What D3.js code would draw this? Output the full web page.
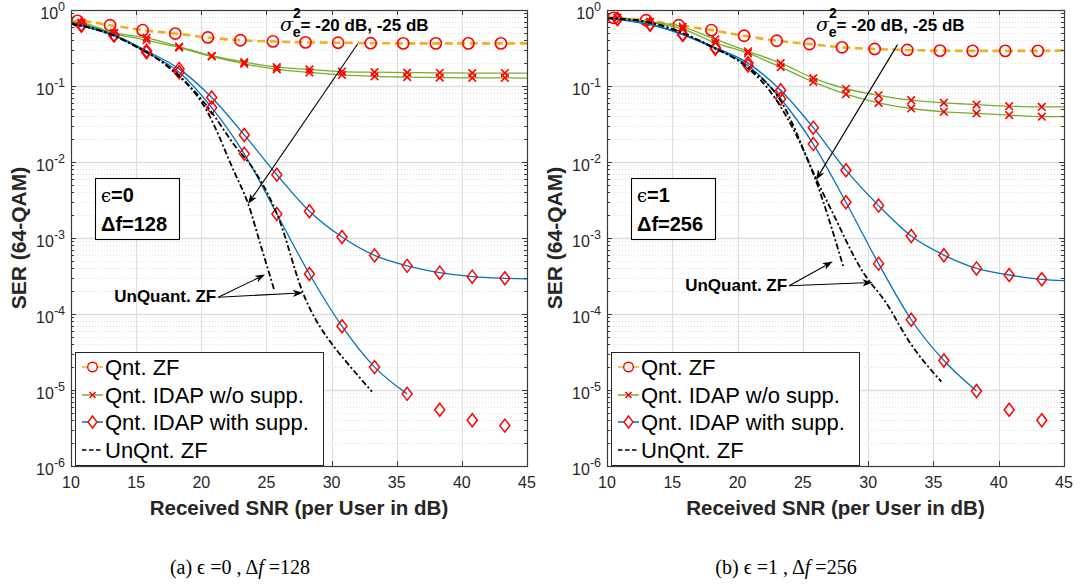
<!DOCTYPE html>
<html><head><meta charset="utf-8">
<script src="https://cdn.jsdelivr.net/npm/d3@7"></script>
<style>
body{margin:0;background:#fff;}
svg{display:block;font-family:"Liberation Sans",Arial,Helvetica,sans-serif;}
</style>
</head><body>
<svg id="chart" width="1084" height="584"></svg>
<script>
// ---------------- data ----------------
const snrTicks = [10, 15, 20, 25, 30, 35, 40, 45];
const snrRange = [10, 45];
const serTicks = [1e0, 1e-1, 1e-2, 1e-3, 1e-4, 1e-5, 1e-6];
const serTickExp = ["0", "-1", "-2", "-3", "-4", "-5", "-6"];
const legendLabels = ["Qnt. ZF", "Qnt. IDAP w/o supp.", "Qnt. IDAP with supp.", "UnQnt. ZF"];
const snrZF = [10.5, 13, 15.5, 18, 20.5, 23, 25.5, 28, 30.5, 33, 35.5, 38, 40.5, 43];
const snrIDAP = [10.8, 13.3, 15.8, 18.3, 20.8, 23.3, 25.8, 28.3, 30.8, 33.3, 35.8, 38.3, 40.8, 43.3];

// panel (a): eps=0, df=128
const aZF = [0.72, 0.63, 0.543, 0.49, 0.435, 0.40, 0.386, 0.375, 0.371, 0.366, 0.364, 0.364, 0.364, 0.364];
const aZFEnds = [0.70, 0.364];
const aWo20 = [0.68, 0.50, 0.43, 0.33, 0.25, 0.206, 0.177, 0.165, 0.155, 0.152, 0.150, 0.149, 0.148, 0.148];
const aWo20Ends = [0.70, 0.148];
const aWo25 = [0.66, 0.49, 0.40, 0.32, 0.245, 0.196, 0.166, 0.151, 0.140, 0.134, 0.131, 0.129, 0.128, 0.128];
const aWo25Ends = [0.70, 0.127];
const aW20 = [0.64, 0.47, 0.29, 0.168, 0.0705, 0.0227, 0.0068, 0.00225, 0.00103, 5.9e-4, 4.3e-4, 3.5e-4, 3.1e-4, 2.95e-4];
const aW20Ends = [0.68, 2.9e-4];
const aW25 = [0.62, 0.46, 0.277, 0.152, 0.052, 0.0128, 0.00207, 3.36e-4, 6.9e-5, 2.0e-5, 8.9e-6, 5.5e-6, 4.0e-6, 3.4e-6];
const aW25Ends = [0.68, null];
const aW25LineStop = 35.8;
const aUnqASnr = [10, 12.5, 15, 17.5, 20.4, 22.5, 23.6, 24.6, 25.6];
const aUnqASer = [0.66, 0.52, 0.33, 0.175, 0.048, 0.0076, 0.0028, 7.6e-4, 2.07e-4];
const aUnqBSnr = [10, 12.5, 15, 17.5, 20.6, 22.5, 24.1, 25.9, 27.8, 30.3, 31.0, 33.1];
const aUnqBSer = [0.66, 0.52, 0.33, 0.18, 0.05, 0.017, 0.0076, 0.0019, 1.9e-4, 3.5e-5, 2.5e-5, 9.5e-6];

// panel (b): eps=1, df=256
const bZF = [0.79, 0.733, 0.63, 0.543, 0.458, 0.394, 0.357, 0.323, 0.307, 0.298, 0.292, 0.29, 0.29, 0.29];
const bZFEnds = [0.81, 0.295];
const bWo20 = [0.79, 0.70, 0.60, 0.41, 0.286, 0.20, 0.127, 0.092, 0.0755, 0.065, 0.060, 0.057, 0.0543, 0.053];
const bWo20Ends = [0.80, 0.053];
const bWo25 = [0.79, 0.69, 0.56, 0.37, 0.27, 0.177, 0.113, 0.078, 0.060, 0.0506, 0.0458, 0.0436, 0.0414, 0.0395];
const bWo25Ends = [0.80, 0.0395];
const bW20 = [0.76, 0.65, 0.48, 0.32, 0.20, 0.0878, 0.0283, 0.0078, 0.00267, 0.00106, 5.94e-4, 3.98e-4, 3.26e-4, 2.86e-4];
const bW20Ends = [0.80, 2.75e-4];
const bW25 = [0.76, 0.64, 0.47, 0.31, 0.186, 0.068, 0.0172, 0.00295, 4.6e-4, 8.4e-5, 2.44e-5, 9.7e-6, 5.5e-6, 4.0e-6];
const bW25Ends = [0.80, null];
const bW25LineStop = 38.3;
const bUnqASnr = [10, 13, 15.5, 18, 20.5, 23.0, 25.9, 28.1];
const bUnqASer = [0.78, 0.70, 0.52, 0.33, 0.19, 0.064, 0.0063, 4.2e-4];
const bUnqBSnr = [10, 13, 15.5, 18, 20.5, 23.3, 26.1, 27.2, 29.5, 31.4, 33.2, 35.6];
const bUnqBSer = [0.78, 0.70, 0.52, 0.33, 0.19, 0.064, 0.0056, 0.0023, 3.8e-4, 1.38e-4, 4.2e-5, 1.29e-5];

const captions = ["(a) \u03F5 =0 , \u0394", "(b) \u03F5 =1 , \u0394"];
const captionTail = [" =128", " =256"];
const boxEps = ["=0", "=1"];
const boxDf = ["\u0394f=128", "\u0394f=256"];

// ---------------- styles ----------------
const C = {yellow:"#EDB120", green:"#77AC30", blue:"#0072BD", red:"#FF0000", axis:"#262626", grid:"#dedede"};
const svg = d3.select("#chart");
svg.append("rect").attr("width",1084).attr("height",584).attr("fill","#fff");

const panels = [
  {x0:71, x1:527, zf:aZF, zfEnds:aZFEnds, wo:[[aWo20,aWo20Ends],[aWo25,aWo25Ends]],
   w:[[aW20,aW20Ends,null],[aW25,aW25Ends,aW25LineStop]],
   unq:[[aUnqASnr,aUnqASer],[aUnqBSnr,aUnqBSer]],
   sigArrow:[[32.0,0.357],[23.58,0.0028]], unqStart:[21.3,1.66e-4], unqTips:[[24.9,3.3e-4],[27.8,1.9e-4]],
   capX:240, idx:0},
  {x0:607, x1:1064, zf:bZF, zfEnds:bZFEnds, wo:[[bWo20,bWo20Ends],[bWo25,bWo25Ends]],
   w:[[bW20,bW20Ends,null],[bW25,bW25Ends,bW25LineStop]],
   unq:[[bUnqASnr,bUnqASer],[bUnqBSnr,bUnqBSer]],
   sigArrow:[[32.25,0.35],[26.0,0.0058]], unqStart:[23.95,2.35e-4], unqTips:[[27.28,4.9e-4],[30.34,2.6e-4]],
   capX:786, idx:1}
];
const yTop = 10, yBot = 466;

let clipId = 0;
function buildPts(xs, ys, ends, stop){
  const p = [];
  if (ends && ends[0] != null) p.push([snrRange[0], ends[0]]);
  xs.forEach((x,i)=>{ if (stop == null || x <= stop) p.push([x, ys[i]]); });
  if (ends && ends[1] != null && stop == null) p.push([snrRange[1], ends[1]]);
  return p;
}
function arrow(g, x1, y1, x2, y2){
  const dx = x2-x1, dy = y2-y1, L = Math.hypot(dx,dy), ux = dx/L, uy = dy/L;
  const hl = 10, hw = 3.6;
  const bx = x2 - ux*hl, by = y2 - uy*hl;
  g.append("line").attr("x1",x1).attr("y1",y1).attr("x2",bx+ux*2).attr("y2",by+uy*2)
    .attr("stroke","#000").attr("stroke-width",1.1);
  g.append("path").attr("d",`M${x2},${y2}L${bx - uy*hw},${by + ux*hw}L${x2-ux*hl*0.75},${y2-uy*hl*0.75}L${bx + uy*hw},${by - ux*hw}Z`)
    .attr("fill","#000");
}

panels.forEach(P=>{
  const x = d3.scaleLinear().domain(snrRange).range([P.x0, P.x1]);
  const y = d3.scaleLog().domain([1e-6, 1]).range([yBot, yTop]);
  const g = svg.append("g");
  const cid = "clip"+(clipId++);
  svg.append("defs").append("clipPath").attr("id",cid).append("rect")
    .attr("x",P.x0).attr("y",yTop).attr("width",P.x1-P.x0).attr("height",yBot-yTop);

  // grid
  const grid = g.append("g");
  const minor = [];
  for (let e=-6; e<0; e++) for (let m=2; m<=9; m++) minor.push(m*Math.pow(10,e));
  grid.selectAll(".mn").data(minor).join("line")
    .attr("x1",P.x0).attr("x2",P.x1).attr("y1",d=>Math.round(y(d))+0.5).attr("y2",d=>Math.round(y(d))+0.5)
    .attr("stroke","#e2e2e2").attr("stroke-width",1).attr("stroke-dasharray","1,2");
  grid.selectAll(".mj").data(serTicks.slice(1,-1)).join("line")
    .attr("x1",P.x0).attr("x2",P.x1).attr("y1",d=>Math.round(y(d))+0.5).attr("y2",d=>Math.round(y(d))+0.5)
    .attr("stroke",C.grid).attr("stroke-width",1.3);
  grid.selectAll(".vx").data(snrTicks.slice(1,-1)).join("line")
    .attr("x1",d=>Math.round(x(d))+0.5).attr("x2",d=>Math.round(x(d))+0.5).attr("y1",yTop).attr("y2",yBot)
    .attr("stroke",C.grid).attr("stroke-width",1);

  const plot = g.append("g").attr("clip-path",`url(#${cid})`);
  const line = d3.line().x(d=>x(d[0])).y(d=>y(d[1])).curve(d3.curveMonotoneX);

  // Qnt. ZF
  plot.append("path").attr("d",line(buildPts(snrZF,P.zf,P.zfEnds,null)))
    .attr("fill","none").attr("stroke",C.yellow).attr("stroke-width",2.6).attr("stroke-dasharray","8,4.5");
  plot.selectAll(".circ").data(snrZF.map((s,i)=>[s,P.zf[i]])).join("circle")
    .attr("cx",d=>x(d[0])).attr("cy",d=>y(d[1])).attr("r",5.6)
    .attr("fill","none").attr("stroke",C.red).attr("stroke-width",1.6);

  // w/o supp
  P.wo.forEach(([vals,ends])=>{
    plot.append("path").attr("d",line(buildPts(snrIDAP,vals,ends,null)))
      .attr("fill","none").attr("stroke",C.green).attr("stroke-width",1.3);
  });
  P.wo.forEach(([vals])=>{
    snrIDAP.forEach((s,i)=>{
      const cx = x(s), cy = y(vals[i]), r = 3.8;
      plot.append("path").attr("d",`M${cx-r},${cy-r}L${cx+r},${cy+r}M${cx-r},${cy+r}L${cx+r},${cy-r}`)
        .attr("stroke",C.red).attr("stroke-width",1.6).attr("fill","none");
    });
  });

  // with supp
  P.w.forEach(([vals,ends,stop])=>{
    plot.append("path").attr("d",line(buildPts(snrIDAP,vals,ends,stop)))
      .attr("fill","none").attr("stroke",C.blue).attr("stroke-width",1.3);
  });
  P.w.forEach(([vals])=>{
    snrIDAP.forEach((s,i)=>{
      const cx = x(s), cy = y(vals[i]), hw = 5, hh = 6.5;
      plot.append("path").attr("d",`M${cx},${cy-hh}L${cx+hw},${cy}L${cx},${cy+hh}L${cx-hw},${cy}Z`)
        .attr("stroke",C.red).attr("stroke-width",1.5).attr("fill","none");
    });
  });

  // unquantized
  P.unq.forEach(([xs,ys])=>{
    plot.append("path").attr("d",line(xs.map((s,i)=>[s,ys[i]])))
      .attr("fill","none").attr("stroke","#000").attr("stroke-width",1.8).attr("stroke-dasharray","6,2.5,2,2.5");
  });

  // axes box & ticks
  const ax = g.append("g");
  ax.append("rect").attr("x",P.x0+0.5).attr("y",yTop+0.5).attr("width",P.x1-P.x0).attr("height",yBot-yTop)
    .attr("fill","none").attr("stroke","#3a3a3a").attr("stroke-width",1.2);
  snrTicks.forEach(t=>{
    const px = Math.round(x(t))+0.5;
    ax.append("line").attr("x1",px).attr("x2",px).attr("y1",yBot).attr("y2",yBot-5).attr("stroke","#3a3a3a");
    ax.append("line").attr("x1",px).attr("x2",px).attr("y1",yTop).attr("y2",yTop+5).attr("stroke","#3a3a3a");
  });
  serTicks.forEach(t=>{
    const py = Math.round(y(t))+0.5;
    ax.append("line").attr("x1",P.x0).attr("x2",P.x0+5).attr("y1",py).attr("y2",py).attr("stroke","#3a3a3a");
    ax.append("line").attr("x1",P.x1).attr("x2",P.x1-5).attr("y1",py).attr("y2",py).attr("stroke","#3a3a3a");
  });
  minor.forEach(t=>{
    const py = Math.round(y(t))+0.5;
    ax.append("line").attr("x1",P.x0).attr("x2",P.x0+3).attr("y1",py).attr("y2",py).attr("stroke","#3a3a3a");
    ax.append("line").attr("x1",P.x1).attr("x2",P.x1-3).attr("y1",py).attr("y2",py).attr("stroke","#3a3a3a");
  });
  // tick labels
  snrTicks.forEach(t=>{
    ax.append("text").attr("x",x(t)).attr("y",yBot+22).attr("text-anchor","middle")
      .attr("font-size",16).attr("fill",C.axis).text(t);
  });
  serTicks.forEach((t,i)=>{
    const tx = ax.append("text").attr("x",P.x0-6).attr("y",y(t)+8.5).attr("text-anchor","end")
      .attr("font-size",16).attr("fill",C.axis);
    tx.append("tspan").text("10");
    tx.append("tspan").attr("dy",-8).attr("font-size",12.5).text(serTickExp[i]);
  });
  // axis labels
  g.append("text").attr("transform",`translate(${P.x0-45},${(yTop+yBot)/2}) rotate(-90)`)
    .attr("text-anchor","middle").attr("font-size",21).attr("font-weight","bold").attr("fill",C.axis)
    .text("SER (64-QAM)");
  g.append("text").attr("x",(P.x0+P.x1)/2).attr("y",515).attr("text-anchor","middle")
    .attr("font-size",20.5).attr("font-weight","bold").attr("fill",C.axis)
    .text("Received SNR (per User in dB)");

  // sigma annotation
  const st = g.append("text").attr("x",P.x0+209).attr("y",31).attr("font-size",17).attr("font-weight","bold");
  st.append("tspan").attr("font-family","DejaVu Serif").attr("font-style","italic").attr("font-weight","normal").attr("font-size",19).text("\u03C3");
  st.append("tspan").attr("dy",-13).attr("font-size",14).text("2");
  st.append("tspan").attr("dx",-8).attr("dy",19).attr("font-size",14).text("e");
  st.append("tspan").attr("dy",-6).text("= -20 dB, -25 dB");
  arrow(g, x(P.sigArrow[0][0]), y(P.sigArrow[0][1]), x(P.sigArrow[1][0]), y(P.sigArrow[1][1]));

  // UnQuant annotation
  const ux = x(P.unqStart[0]), uy = y(P.unqStart[1]);
  g.append("text").attr("x",ux-2).attr("y",uy+5).attr("text-anchor","end").attr("font-size",17)
    .attr("font-weight","bold").attr("fill","#000").text("UnQuant. ZF");
  P.unqTips.forEach(tp=>arrow(g, ux, uy, x(tp[0]), y(tp[1])));

  // parameter box
  const bx = g.append("g");
  bx.append("rect").attr("x",P.x0+24.5).attr("y",178.5).attr("width",84).attr("height",61)
    .attr("fill","#fff").attr("stroke","#000").attr("stroke-width",1.1);
  const t1 = bx.append("text").attr("x",P.x0+30).attr("y",202).attr("font-size",20).attr("font-weight","bold");
  t1.append("tspan").attr("font-family","DejaVu Serif").attr("font-weight","normal").attr("font-size",18).text("\u03F5");
  t1.append("tspan").text(boxEps[P.idx]);
  bx.append("text").attr("x",P.x0+30).attr("y",231).attr("font-size",20).attr("font-weight","bold").text(boxDf[P.idx]);

  // legend
  const lg = g.append("g");
  lg.append("rect").attr("x",P.x0+4.5).attr("y",352.5).attr("width",248).attr("height",113)
    .attr("fill","#fff").attr("stroke","#262626").attr("stroke-width",1);
  const rows = [367, 395, 422, 450];
  const lx0 = P.x0+11, lx1 = P.x0+32, lmx = P.x0+21.5;
  lg.append("line").attr("x1",lx0).attr("x2",lx1).attr("y1",rows[0]).attr("y2",rows[0]).attr("stroke",C.yellow).attr("stroke-width",1.5);
  lg.append("circle").attr("cx",lmx).attr("cy",rows[0]).attr("r",4.8).attr("fill","#fff").attr("stroke",C.red).attr("stroke-width",1.4);
  lg.append("line").attr("x1",lx0).attr("x2",lx1).attr("y1",rows[1]).attr("y2",rows[1]).attr("stroke",C.green).attr("stroke-width",1.5);
  lg.append("path").attr("d",`M${lmx-3},${rows[1]-3}L${lmx+3},${rows[1]+3}M${lmx-3},${rows[1]+3}L${lmx+3},${rows[1]-3}`).attr("stroke",C.red).attr("stroke-width",1.5);
  lg.append("line").attr("x1",lx0).attr("x2",lx1).attr("y1",rows[2]).attr("y2",rows[2]).attr("stroke",C.blue).attr("stroke-width",1.5);
  lg.append("path").attr("d",`M${lmx},${rows[2]-6}L${lmx+4.5},${rows[2]}L${lmx},${rows[2]+6}L${lmx-4.5},${rows[2]}Z`).attr("fill","#fff").attr("stroke",C.red).attr("stroke-width",1.4);
  lg.append("line").attr("x1",lx0).attr("x2",lx1).attr("y1",rows[3]).attr("y2",rows[3]).attr("stroke","#000").attr("stroke-width",1.6).attr("stroke-dasharray","4.5,2.5");
  legendLabels.forEach((l,i)=>{
    lg.append("text").attr("x",P.x0+34).attr("y",rows[i]+7.5).attr("font-size",22).attr("fill","#000").text(l);
  });

  // caption
  const cp = svg.append("text").attr("x",P.capX).attr("y",574).attr("text-anchor","middle")
    .attr("font-family","'Liberation Serif','Times New Roman',serif").attr("font-size",20).attr("fill","#000");
  cp.append("tspan").text(captions[P.idx]);
  cp.append("tspan").attr("font-style","italic").text("f");
  cp.append("tspan").text(captionTail[P.idx]);
});
</script>
</body></html>
